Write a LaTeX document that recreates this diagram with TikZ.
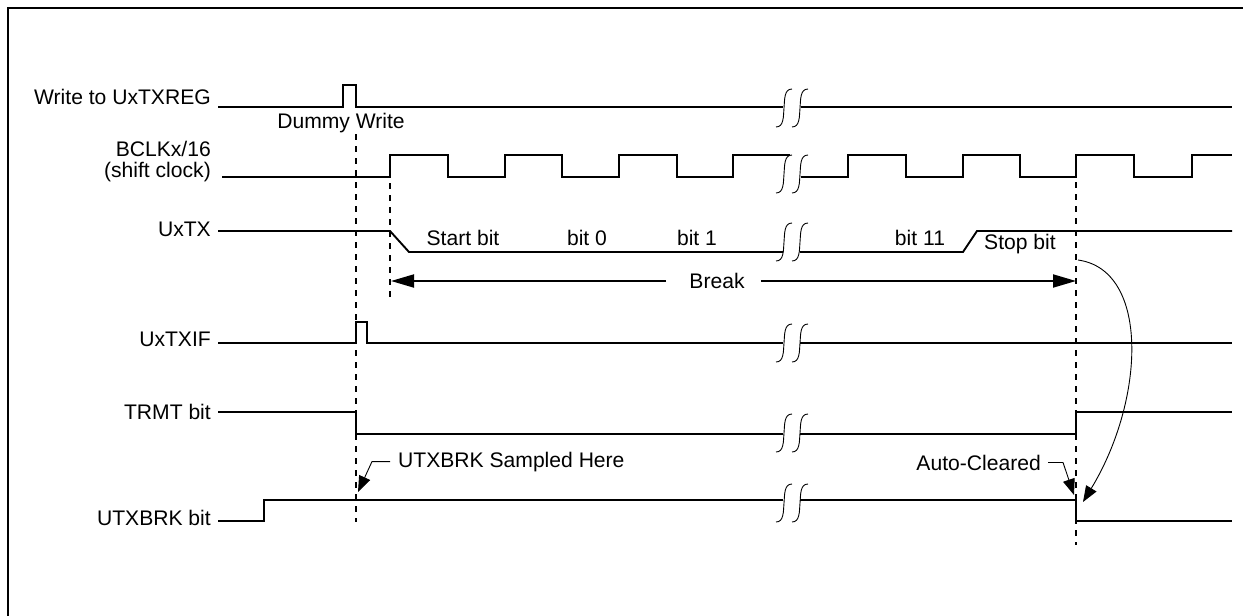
\documentclass[tikz,border=0pt]{standalone}
\usepackage{fontspec}
\setmainfont{Liberation Sans}
\usetikzlibrary{arrows.meta}
\newcommand\mybrk[1]{%
  \draw[brkc] (776,#1+19) to[out=0,in=-95] (784,#1) to[out=85,in=180] (792,#1-19);
  \draw[brkc] (792,#1+19) to[out=0,in=-95] (800,#1) to[out=85,in=180] (808,#1-19);}
\begin{document}
\begin{tikzpicture}[x=1pt,y=-1pt,
  sig/.style={line width=1.9pt},
  guide/.style={line width=1.9pt,dash pattern=on 6pt off 6pt},
  brkc/.style={line width=0.9pt},
  lead/.style={line width=0.9pt,-{Triangle[length=16pt,width=12pt]}},
  bigarr/.style={line width=1.9pt,-{Triangle[length=23pt,width=13pt]}},
  lbl/.style={font=\fontsize{21.1}{23}\selectfont,inner sep=0pt}]
\useasboundingbox (0,0) rectangle (1243,616);
% frame
\draw[line width=2pt] (8,616) -- (8,8) -- (1243,8);
% signal labels
\node[lbl,anchor=base east] (lw) at (211,104) {Write to UxTXREG};
\node[lbl,anchor=base east] (lclka) at (211,156) {BCLKx/16};
\node[lbl,anchor=base east] (lclkb) at (211,177) {(shift clock)};
\node[lbl,anchor=base east] (ltx) at (211,236) {UxTX};
\node[lbl,anchor=base east] (lif) at (211,346) {UxTXIF};
\node[lbl,anchor=base east] (ltr) at (211,419) {TRMT bit};
\node[lbl,anchor=base east] (lbk) at (211,525) {UTXBRK bit};
% guides
\draw[guide] (356,134) -- (356,522);
\draw[guide] (390,183) -- (390,297);
\draw[guide] (1076,182) -- (1076,545);
% Write to UxTXREG
\draw[sig] (218,107) -- (343,107) -- (343,85) -- (356,85) -- (356,107) -- (783,107);
\draw[sig] (801,107) -- (1232,107);
\mybrk{108}
\node[lbl,anchor=base] (dw) at (341,128) {Dummy Write};
% clock
\draw[sig] (222,177) -- (390,177) -- (390,155) -- (448,155) -- (448,177) -- (505,177) -- (505,155) -- (562,155) -- (562,177) -- (619,177) -- (619,155) -- (677,155) -- (677,177) -- (733,177) -- (733,155) -- (790,155);
\draw[sig] (801,177) -- (848,177) -- (848,155) -- (906,155) -- (906,177) -- (963,177) -- (963,155) -- (1020,155) -- (1020,177) -- (1076,177) -- (1076,155) -- (1134,155) -- (1134,177) -- (1192,177) -- (1192,155) -- (1232,155);
\mybrk{174}
% UxTX
\draw[sig] (218,231) -- (390,231) -- (409,252) -- (783,252);
\draw[sig] (800,252) -- (963,252) -- (977,231) -- (1232,231);
\mybrk{242}
\node[lbl,anchor=base] (sb) at (463,245) {Start bit};
\node[lbl,anchor=base] (b0) at (587,245) {bit 0};
\node[lbl,anchor=base] (b1) at (697,245) {bit 1};
\node[lbl,anchor=base] (b11) at (920,245) {bit 11};
\node[lbl,anchor=base] (stb) at (1020,249) {Stop bit};
% Break arrow
\coordinate (bl) at (391,281);
\coordinate (br) at (1076,281);
\node[lbl,anchor=base] (brk) at (717,288) {Break};
\draw[bigarr] ([xshift=-23pt]brk.west |- bl) -- (bl);
\draw[bigarr] ([xshift=16pt]brk.east |- br) -- (br);
% UxTXIF
\draw[sig] (218,343) -- (356,343) -- (356,322) -- (367,322) -- (367,343) -- (783,343);
\draw[sig] (800,343) -- (1232,343);
\mybrk{343}
% TRMT
\draw[sig] (218,412) -- (356,412) -- (356,434) -- (783,434);
\draw[sig] (800,434) -- (1076,434) -- (1076,412) -- (1232,412);
\mybrk{433}
% UTXBRK
\draw[sig] (218,521) -- (264,521) -- (264,500) -- (783,500);
\draw[sig] (800,500) -- (1076,500) -- (1076,521) -- (1232,521);
\mybrk{503}
% annotations
\node[lbl,anchor=base west] (samp) at (398,467) {UTXBRK Sampled Here};
\coordinate (sampTip) at (358,492);
\draw[lead] ([xshift=-8pt]samp.west) -- ++(-18,0) -- (sampTip);
\node[lbl,anchor=base east] (auto) at (1041,470) {Auto-Cleared};
\coordinate (autoTip) at (1074,495);
\draw[lead] ([xshift=7pt]auto.east) -- ++(15,0) -- (autoTip);
\coordinate (cs) at (1078,260);
\coordinate (ce) at (1083,502);
\draw[lead] (cs) .. controls (1150,270) and (1145,400) .. (ce);
\end{tikzpicture}
\end{document}
